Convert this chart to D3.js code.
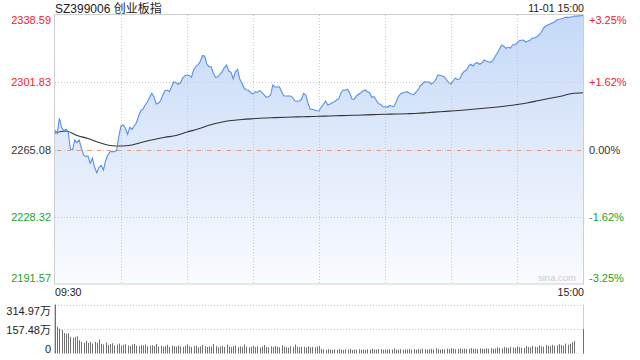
<!DOCTYPE html>
<html><head><meta charset="utf-8">
<script src="https://cdn.jsdelivr.net/npm/d3@7"></script>
<style>
html,body{margin:0;padding:0;background:#fff;}
svg{display:block;font-family:"Liberation Sans",Arial,sans-serif;}
</style></head>
<body>
<svg id="c" width="640" height="360"></svg>
<script>
const title = "SZ399006 创业板指";
const stamp = "11-01 15:00";
const prevClose = 2265.08;
const priceTicks = [2191.57, 2228.32, 2265.08, 2301.83, 2338.59];
const pctTicks = ["-3.25%", "-1.62%", "0.00%", "+1.62%", "+3.25%"];
const timeTicks = ["09:30", "15:00"];
const volTicks = [0, 157.48, 314.97];
const volTickLabels = ["0", "157.48万", "314.97万"];

const prices = [
2275.74,2273.93,2282.13,2277.21,2275.35,2276.12,2274.81,2265.19,2265.05,2270.27,
2268.80,2270.35,2265.74,2262.07,2261.14,2261.53,2257.54,2260.27,2255.35,2252.40,
2255.30,2256.44,2253.88,2258.96,2262.07,2263.88,2263.90,2263.85,2264.42,2272.08,
2277.92,2278.47,2276.67,2273.39,2277.21,2276.10,2277.95,2279.73,2283.39,2286.29,
2287.21,2289.40,2291.20,2293.61,2295.80,2293.94,2289.95,2290.33,2291.75,2294.87,
2297.22,2297.60,2296.67,2299.40,2302.14,2301.59,2300.71,2301.55,2303.99,2305.41,
2305.80,2305.70,2304.54,2308.53,2310.55,2311.43,2313.07,2316.35,2316.18,2311.81,
2310.33,2310.30,2306.73,2304.54,2304.87,2306.34,2307.60,2310.01,2311.26,2307.98,
2307.27,2303.78,2307.55,2308.91,2303.45,2301.26,2298.53,2297.60,2297.44,2296.12,
2295.41,2296.67,2296.34,2297.40,2296.30,2295.03,2293.61,2293.94,2294.87,2300.33,
2299.24,2299.20,2299.30,2296.67,2294.48,2294.32,2294.30,2294.35,2293.61,2291.75,
2291.42,2291.59,2292.52,2295.80,2294.87,2290.33,2287.05,2287.10,2286.67,2286.29,
2286.12,2288.14,2289.78,2291.55,2289.40,2289.95,2290.66,2291.20,2292.13,2292.84,
2296.12,2297.60,2297.44,2297.98,2295.80,2292.68,2292.52,2294.32,2295.25,2296.12,
2297.05,2297.60,2296.67,2296.10,2293.61,2293.94,2292.13,2290.11,2289.78,2288.47,
2288.45,2288.14,2289.02,2288.85,2288.47,2290.88,2293.77,2295.41,2295.96,2296.34,
2296.67,2295.96,2295.41,2295.03,2296.34,2297.60,2299.95,2300.88,2302.14,2301.81,
2302.10,2300.88,2301.59,2303.07,2305.80,2305.63,2305.25,2304.70,2303.07,2301.59,
2300.88,2302.68,2304.16,2303.23,2303.78,2306.18,2307.82,2308.37,2310.72,2311.65,
2310.72,2312.19,2312.52,2311.65,2312.36,2314.00,2313.45,2313.07,2312.74,2313.61,
2315.80,2317.66,2319.84,2322.19,2321.48,2320.39,2320.94,2320.55,2322.36,2322.30,
2323.29,2324.54,2324.76,2324.93,2323.83,2324.38,2324.90,2326.02,2326.05,2326.73,
2327.66,2329.13,2331.32,2332.58,2333.12,2333.67,2334.22,2334.76,2335.86,2336.24,
2336.40,2336.79,2337.33,2337.30,2337.35,2337.66,2338.04,2338.00,2338.10,2338.21,
2338.30];

const avgMinute = [0,5,10,15,20,25,30,35,40,45,50,55,60,65,70,75,80,85,90,95,100,105,110,115,120,
125,130,135,140,145,150,155,160,165,170,175,180,185,190,195,200,205,210,215,220,225,230,235,240];
const avgPrice = [2274.10,2275.19,2272.73,2271.09,2268.91,2267.27,2266.99,2267.54,2269.18,2270.55,
2271.75,2272.73,2274.64,2276.28,2278.31,2279.84,2280.93,2281.48,2281.91,2282.30,
2282.51,2282.73,2282.90,2283.06,2283.23,2283.39,2283.61,2283.77,2283.94,2284.15,
2284.37,2284.48,2284.65,2284.86,2285.30,2285.68,2286.12,2286.56,2287.05,2287.60,
2288.20,2288.85,2289.67,2290.60,2291.86,2293.06,2294.16,2295.69,2296.12];

const volumes = [
315,172,160,152,132,128,130,107,102,107,111,85,75,68,81,68,75,64,75,68,90,
62,58,70,55,60,66,52,58,64,50,56,60,52,48,58,62,50,47,55,52,
58,46,50,54,48,62,45,50,44,48,56,42,50,47,44,52,46,43,50,58,
45,42,48,52,40,45,55,47,42,46,44,62,48,40,45,50,42,56,44,41,
48,52,40,46,43,58,45,40,44,50,42,47,39,45,55,43,40,46,42,48,
44,40,52,45,41,38,47,43,58,45,40,44,42,38,46,41,43,40,45,48,
30,27,24,28,25,23,26,24,28,25,23,27,25,30,23,26,24,28,25,26,
23,27,24,31,26,25,29,27,23,26,24,28,25,33,26,24,28,25,27,26,
30,25,28,24,29,26,31,28,25,27,30,26,34,28,25,29,26,31,28,35,
30,27,29,33,28,31,28,30,35,29,32,28,33,30,29,34,31,35,30,32,
40,36,34,42,38,36,44,39,37,46,40,38,36,48,42,40,50,44,41,52,
46,44,54,48,46,56,50,52,60,54,50,64,56,62,72,80,2,1,1,157];

const RED = "#f0241f", GREEN = "#1ea21e", DARK = "#333";
const svg = d3.select("#c");
const L = 55, R = 583, T = 15, B = 284;
const VT = 304.5, VB = 353.5;

const x = d3.scaleLinear().domain([0, 240]).range([L, R]);
const y = d3.scaleLinear().domain([priceTicks[0], priceTicks[4]]).range([B, T]);
const yv = d3.scaleLinear().domain([0, volTicks[2]]).range([VB, VT]);

const defs = svg.append("defs");
const grad = defs.append("linearGradient").attr("id", "fillg")
  .attr("gradientUnits", "userSpaceOnUse").attr("x1", 0).attr("x2", 0).attr("y1", T).attr("y2", B);
grad.append("stop").attr("offset", 0).attr("stop-color", "#c5d9f7");
grad.append("stop").attr("offset", 0.55).attr("stop-color", "#e3ecfb");
grad.append("stop").attr("offset", 1).attr("stop-color", "#f9fbff");

// area
svg.append("path").datum(prices)
  .attr("d", d3.area().x((d, i) => x(i)).y0(B).y1(d => y(d)))
  .attr("fill", "url(#fillg)");

// grid
const vgrid = d3.range(1, 8).map(k => L + k * (R - L) / 8);
svg.append("g").selectAll("line").data(vgrid).join("line")
  .attr("x1", d => Math.round(d) + 0.5).attr("x2", d => Math.round(d) + 0.5)
  .attr("y1", T).attr("y2", B)
  .attr("stroke", "#c8c8c8").attr("stroke-dasharray", "1,2");
svg.append("g").selectAll("line").data([priceTicks[1], priceTicks[3]]).join("line")
  .attr("x1", L).attr("x2", R)
  .attr("y1", d => Math.round(y(d)) + 0.5).attr("y2", d => Math.round(y(d)) + 0.5)
  .attr("stroke", "#c8c8c8").attr("stroke-dasharray", "1,2");
svg.append("line").attr("x1", L).attr("x2", R)
  .attr("y1", Math.round(y(prevClose)) + 0.5).attr("y2", Math.round(y(prevClose)) + 0.5)
  .attr("stroke", "#c8c8c8").attr("stroke-dasharray", "1,2");
svg.append("line").attr("x1", L + 2).attr("x2", R)
  .attr("y1", Math.round(y(prevClose)) + 0.5).attr("y2", Math.round(y(prevClose)) + 0.5)
  .attr("stroke", "#e89a78").attr("stroke-dasharray", "4,6");

// frame
svg.append("rect").attr("x", L - 0.5).attr("y", T - 0.5).attr("width", R - L + 1).attr("height", B - T + 0.5)
  .attr("fill", "none").attr("stroke", "#cfcfcf");

// avg line
svg.append("path").datum(avgPrice)
  .attr("d", d3.line().x((d, i) => x(avgMinute[i])).y(d => y(d)).curve(d3.curveMonotoneX))
  .attr("fill", "none").attr("stroke", "#333").attr("stroke-width", 1.1);

// price line
svg.append("path").datum(prices)
  .attr("d", d3.line().x((d, i) => x(i)).y(d => y(d)))
  .attr("fill", "none").attr("stroke", "#5590ee").attr("stroke-width", 1.1);

// left axis
const colorFor = v => v > prevClose + 0.001 ? RED : (v < prevClose - 0.001 ? GREEN : DARK);
const ax = svg.append("g").attr("transform", `translate(${L},0)`)
  .call(d3.axisLeft(y).tickValues(priceTicks).tickSize(0).tickPadding(4).tickFormat(d3.format(".2f")));
ax.select(".domain").remove();
ax.selectAll("text").attr("font-size", 11).attr("font-family", "Liberation Sans, Arial, sans-serif")
  .attr("fill", d => colorFor(d))
  .attr("dy", (d, i) => i === 4 ? "0.8em" : (i === 0 ? "-0.22em" : "0.32em"));

const ax2 = svg.append("g").attr("transform", `translate(${R},0)`)
  .call(d3.axisRight(y).tickValues(priceTicks).tickSize(0).tickPadding(6).tickFormat((d, i) => pctTicks[i]));
ax2.select(".domain").remove();
ax2.selectAll("text").attr("font-size", 11).attr("font-family", "Liberation Sans, Arial, sans-serif")
  .attr("fill", d => colorFor(d))
  .attr("dy", (d, i) => i === 4 ? "0.8em" : (i === 0 ? "-0.22em" : "0.32em"));

// header
svg.append("text").attr("x", L).attr("y", 12.5).attr("font-size", 12).attr("fill", "#222")
  .attr("font-family", "Liberation Sans, 'Noto Sans CJK SC', sans-serif").text(title);
svg.append("text").attr("x", R + 1).attr("y", 12).attr("text-anchor", "end").attr("font-size", 10.6)
  .attr("fill", "#222").text(stamp);

// time labels
svg.append("text").attr("x", L).attr("y", 296).attr("font-size", 10.6).attr("fill", "#222").text(timeTicks[0]);
svg.append("text").attr("x", R + 1).attr("y", 296).attr("text-anchor", "end").attr("font-size", 10.6)
  .attr("fill", "#222").text(timeTicks[1]);

// watermark
svg.append("text").attr("x", 576).attr("y", 281).attr("text-anchor", "end").attr("font-size", 9.5)
  .attr("fill", "#cccccc").text("sina.com");

// volume panel
svg.append("g").selectAll("line").data([volTicks[1], volTicks[2]]).join("line")
  .attr("x1", L).attr("x2", R)
  .attr("y1", d => Math.round(yv(d)) + 0.5).attr("y2", d => Math.round(yv(d)) + 0.5)
  .attr("stroke", "#c8c8c8").attr("stroke-dasharray", "1,2");
svg.append("line").attr("x1", L - 0.5).attr("x2", L - 0.5).attr("y1", VT).attr("y2", VB).attr("stroke", "#cfcfcf");
svg.append("line").attr("x1", R + 0.5).attr("x2", R + 0.5).attr("y1", VT).attr("y2", VB).attr("stroke", "#cfcfcf");

svg.append("g").selectAll("rect").data(volumes).join("rect")
  .attr("x", (d, i) => Math.round(x(i)))
  .attr("y", d => yv(d))
  .attr("width", 1)
  .attr("height", d => VB - yv(d))
  .attr("fill", "#707070");

const av = svg.append("g").attr("transform", `translate(${L},0)`)
  .call(d3.axisLeft(yv).tickValues(volTicks).tickSize(0).tickPadding(4).tickFormat((d, i) => volTickLabels[i]));
av.select(".domain").remove();
av.selectAll("text").attr("font-size", 11).attr("fill", "#222")
  .attr("font-family", "Liberation Sans, 'Noto Sans CJK SC', sans-serif")
  .attr("dy", (d, i) => i === 0 ? "-0.1em" : (i === 2 ? "0.9em" : "0.45em"));
</script>
</body></html>
